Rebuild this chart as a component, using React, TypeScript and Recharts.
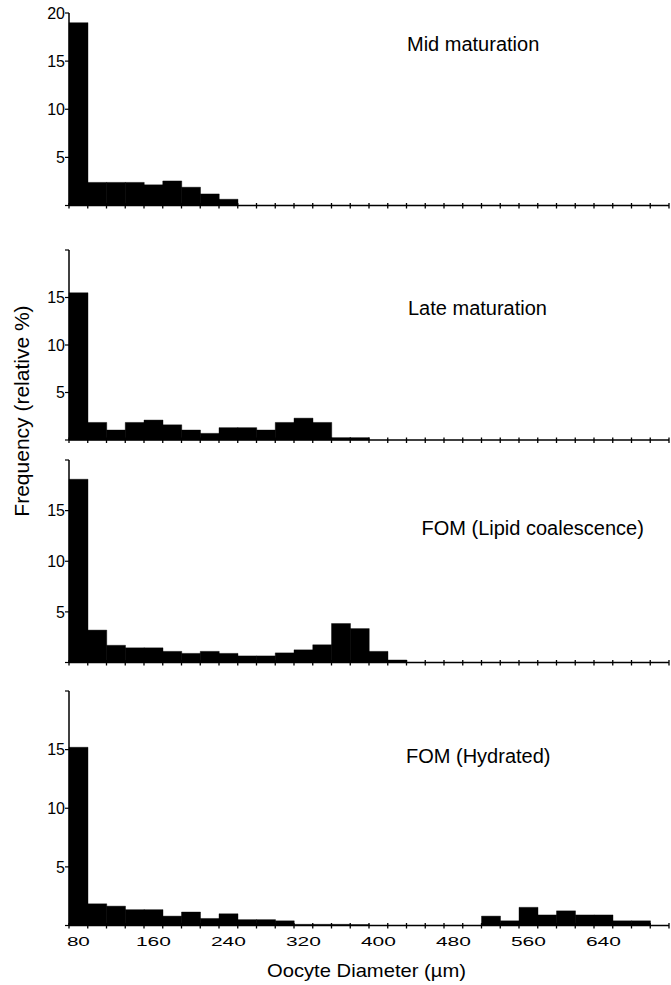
import React from "react"
import { BarChart, Bar, XAxis, YAxis } from "recharts"

// bin lower edges (µm), 20 µm wide
const bins = [
  80, 100, 120, 140, 160, 180, 200, 220, 240, 260, 280, 300, 320, 340, 360, 380,
  400, 420, 440, 460, 480, 500, 520, 540, 560, 580, 600, 620, 640, 660, 680, 700,
]

const midMaturation = [
  19.0, 2.4, 2.4, 2.4, 2.15, 2.55, 1.9, 1.2, 0.65, 0, 0, 0, 0, 0, 0, 0,
  0, 0, 0, 0, 0, 0, 0, 0, 0, 0, 0, 0, 0, 0, 0, 0,
]

const lateMaturation = [
  15.5, 1.85, 1.05, 1.85, 2.1, 1.6, 1.05, 0.7, 1.3, 1.3, 1.05, 1.85, 2.3, 1.85, 0.25, 0.25,
  0, 0, 0, 0, 0, 0, 0, 0, 0, 0, 0, 0, 0, 0, 0, 0,
]

const lipidCoalescence = [
  18.1, 3.2, 1.7, 1.45, 1.45, 1.1, 0.9, 1.1, 0.9, 0.65, 0.65, 0.95, 1.25, 1.75, 3.85, 3.35,
  1.1, 0.25, 0, 0, 0, 0, 0, 0, 0, 0, 0, 0, 0, 0, 0, 0,
]

const hydrated = [
  15.2, 1.85, 1.65, 1.35, 1.35, 0.8, 1.15, 0.6, 1.0, 0.5, 0.5, 0.4, 0.1, 0.1, 0.1, 0.08,
  0, 0, 0, 0, 0, 0, 0.8, 0.4, 1.55, 0.9, 1.25, 0.9, 0.9, 0.4, 0.4, 0,
]

const yTicks = [0, 5, 10, 15, 20]
const xLabelEvery = 4

const FONT = "'Liberation Sans', Arial, Helvetica, sans-serif"

type Panel = {
  title: string
  values: number[]
  plotTop: number
  plotBottom: number
  showTop: boolean
  showXLabels: boolean
  titleX: number
  titleY: number
}

const panels: Panel[] = [
  { title: "Mid maturation", values: midMaturation, plotTop: 13, plotBottom: 205.5, showTop: true, showXLabels: false, titleX: 407, titleY: 50.5 },
  { title: "Late maturation", values: lateMaturation, plotTop: 249.5, plotBottom: 439.5, showTop: false, showXLabels: false, titleX: 408, titleY: 315 },
  { title: "FOM (Lipid coalescence)", values: lipidCoalescence, plotTop: 460, plotBottom: 662.5, showTop: false, showXLabels: false, titleX: 421.5, titleY: 535 },
  { title: "FOM (Hydrated)", values: hydrated, plotTop: 690.5, plotBottom: 925, showTop: false, showXLabels: true, titleX: 406, titleY: 763 },
]

const W = 671
const MARGIN_TOP = 12

function XTick(props: any) {
  const { x, y, payload, index, showLabels, count } = props
  const half = payload && payload.offset ? payload.offset : 9.375
  const left = x - half
  const label = String(payload.value)
  return (
    <g>
      <line x1={left} x2={left} y1={y - 2.5} y2={y + 3} stroke="#000" strokeWidth={1.3} />
      {index === count - 1 && (
        <line x1={x + half} x2={x + half} y1={y - 2.5} y2={y + 3} stroke="#000" strokeWidth={1.3} />
      )}
      {showLabels && index % xLabelEvery === 0 && (
        <text
          x={x}
          y={y + 20}
          textAnchor="middle"
          fontSize={13}
          fontFamily={FONT}
          fill="#000"
          textLength={label.length * 12 - 1}
          lengthAdjust="spacingAndGlyphs"
        >
          {label}
        </text>
      )}
    </g>
  )
}

function HistPanel({ p }: { p: Panel }) {
  const data = bins.map((b, i) => ({ bin: b, value: p.values[i] }))
  const xAxisH = p.showXLabels ? 30 : 8
  const height = MARGIN_TOP + (p.plotBottom - p.plotTop) + xAxisH
  return (
    <div style={{ position: "absolute", left: 0, top: p.plotTop - MARGIN_TOP }}>
      <BarChart
        width={W}
        height={height}
        data={data}
        margin={{ top: MARGIN_TOP, right: 2, bottom: 0, left: 0 }}
        barCategoryGap={0}
        barGap={0}
      >
        <XAxis
          dataKey="bin"
          type="category"
          interval={0}
          height={xAxisH}
          tickSize={0}
          tickMargin={0}
          tickLine={false}
          axisLine={{ stroke: "#000", strokeWidth: 1.5 }}
          tick={<XTick showLabels={p.showXLabels} count={bins.length} />}
        />
        <YAxis
          domain={[0, 20]}
          ticks={yTicks}
          interval={0}
          width={69}
          tickSize={4}
          tickMargin={0}
          axisLine={{ stroke: "#000", strokeWidth: 1.5 }}
          tickLine={{ stroke: "#000", strokeWidth: 1.2 }}
          tick={{ fill: "#000", fontSize: 16, fontFamily: FONT }}
          tickFormatter={(v: number) => (v === 0 || (v === 20 && !p.showTop) ? "" : String(v))}
        />
        <Bar dataKey="value" fill="#000" stroke="#000" strokeWidth={0.4} isAnimationActive={false} />
      </BarChart>
    </div>
  )
}

export default function App() {
  return (
    <div style={{ position: "absolute", left: 0, top: 0, width: W, height: 985, background: "#fff" }}>
      {panels.map((p) => (
        <HistPanel key={p.title} p={p} />
      ))}
      <svg
        width={W}
        height={985}
        style={{ position: "absolute", left: 0, top: 0, pointerEvents: "none" }}
        fontFamily={FONT}
      >
        {panels.map((p) => (
          <text key={p.title} x={p.titleX} y={p.titleY} fontSize={20} fill="#000">
            {p.title}
          </text>
        ))}
        <text
          x={21}
          y={411}
          fontSize={21}
          fill="#000"
          textAnchor="middle"
          dominantBaseline="central"
          transform="rotate(-90 21 411)"
        >
          Frequency (relative %)
        </text>
        <text x={267} y={976.5} fontSize={19} fill="#000" textLength={199} lengthAdjust="spacingAndGlyphs">
          Oocyte Diameter (µm)
        </text>
      </svg>
    </div>
  )
}
